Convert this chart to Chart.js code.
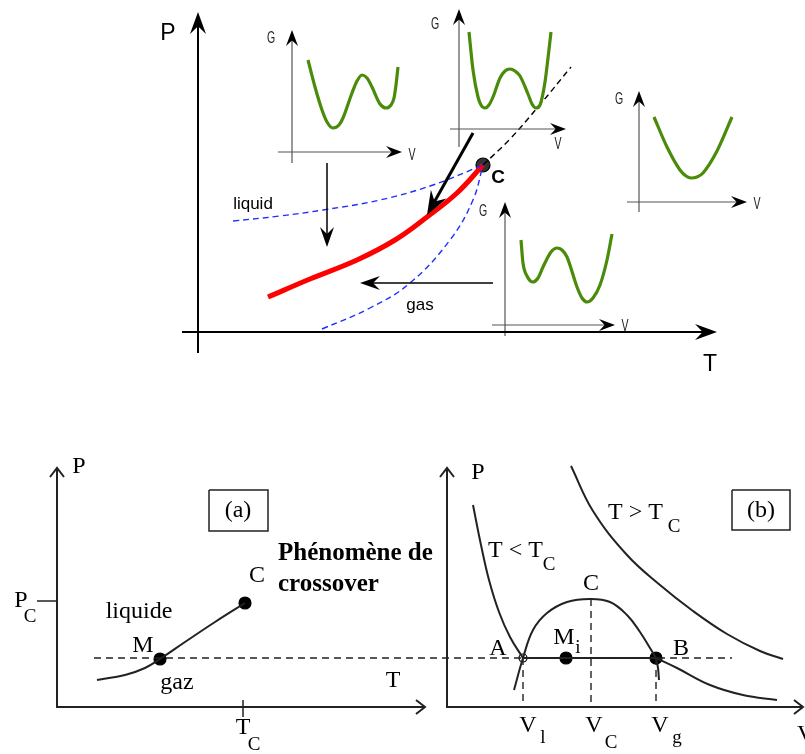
<!DOCTYPE html>
<html>
<head>
<meta charset="utf-8">
<script src="https://cdn.jsdelivr.net/npm/chart.js@4"></script>
<style>
  body { margin: 0; background: #fff; }
  #wrap { width: 805px; height: 754px; }
</style>
</head>
<body>
<div id="wrap"><canvas id="myChart" width="805" height="754"></canvas></div>
<script>
// Curve points (page coordinates, y going down)

// top diagram: coexistence line ending at the critical point
const redCurve = [[268, 297], [310, 279], [357, 260], [395, 240], [427, 217], [457, 193], [483, 165]];
const criticalExt = [[483, 165], [510, 139], [538, 107], [571, 67]];
const liquidSpinodal = [[233, 221], [280, 216], [323, 210], [380, 200], [433, 185], [483, 165]];
const gasSpinodal = [[322, 329], [370, 308], [410, 283], [450, 240], [473, 200], [483, 165]];
const criticalPoint = [[483, 165]];

// G(V) insets
const gCurve1 = [[308, 60], [315, 87], [322, 110], [327, 122], [333, 128], [339, 125], [343, 118], [352, 93], [357, 81], [362, 75], [367, 78], [372, 87], [380, 104], [386, 108], [391, 105], [394, 98], [396, 85], [398, 67]];
const gCurve2 = [[469, 32], [473, 70], [478, 97], [481, 105], [485, 108], [489, 105], [493, 97], [500, 78], [505, 71], [510, 69], [515, 71], [520, 76], [528, 94], [532, 104], [536, 108], [540, 105], [545, 82], [548, 58], [551, 32]];
const gCurve3 = [[654, 117], [667, 147], [680, 170], [686, 176], [691, 178], [697, 177], [703, 173], [717, 151], [732, 117]];
const gCurve4 = [[521, 240], [523, 263], [527, 276], [533, 282], [538, 278], [543, 267], [551, 252], [557, 248], [562, 250], [567, 257], [577, 287], [582, 298], [587, 302], [593, 298], [600, 285], [607, 260], [612, 234]];

// bottom left (a): P(T)
const coexCurveA = [[97, 680], [125, 675], [145, 668], [160, 659], [185, 642], [215, 622], [245, 603]];
const pointsA = [[160, 659], [245, 603]];

// bottom right (b): P(V)
const isoBelowLeft = [[473, 505], [481, 545], [489, 580], [499, 612], [510, 637], [523, 658]];
const isoBelowRight = [[656, 658], [677, 668], [710, 685], [743, 695], [777, 700]];
const isoAbove = [[571, 466], [593, 511], [627, 555], [660, 585], [693, 611], [727, 634], [760, 651], [783, 659]];
const domeLeft = [[514, 690], [523, 658], [533, 630], [547, 613], [567, 602], [590, 599], [610, 602], [627, 615], [640, 632], [650, 648], [656, 658]];
const domeRight = [[656, 658], [658, 668], [659, 680]];
const tieLine = [[523, 658], [656, 658]];
const levelLine = [[94, 658], [732, 658]];
const dropVl = [[523, 658], [523, 707]];
const dropVc = [[591, 599], [591, 707]];
const dropVg = [[656, 658], [656, 707]];
const filledPointsB = [[566, 658], [656, 658]];
const openPointB = [[523, 658]];

// arrows: from, to, head length, head half-width, line width, colour, head style
const arrows = [
  { from: [198, 353], to: [198, 12], len: 22, half: 8, w: 2, c: '#000', s: 'stealth' },
  { from: [182, 332], to: [717, 332], len: 22, half: 8, w: 2, c: '#000', s: 'stealth' },
  { from: [292, 163], to: [292, 30], len: 16, half: 6, w: 1.2, c: '#555', s: 'stealth' },
  { from: [278, 152], to: [402, 152], len: 16, half: 6, w: 1.2, c: '#555', s: 'stealth' },
  { from: [459, 147], to: [459, 9], len: 16, half: 6, w: 1.2, c: '#555', s: 'stealth' },
  { from: [450, 129], to: [566, 129], len: 16, half: 6, w: 1.2, c: '#555', s: 'stealth' },
  { from: [639, 212], to: [639, 91], len: 16, half: 6, w: 1.2, c: '#555', s: 'stealth' },
  { from: [627, 202], to: [747, 202], len: 16, half: 6, w: 1.2, c: '#555', s: 'stealth' },
  { from: [505, 336], to: [505, 202], len: 16, half: 6, w: 1.2, c: '#555', s: 'stealth' },
  { from: [492, 325], to: [615, 325], len: 16, half: 6, w: 1.2, c: '#555', s: 'stealth' },
  { from: [473, 133], to: [427, 215], len: 24, half: 9, w: 3, c: '#000', s: 'stealth' },
  { from: [327, 163], to: [327, 247], len: 20, half: 7, w: 1.5, c: '#000', s: 'stealth' },
  { from: [493, 283], to: [360, 283], len: 20, half: 7, w: 1.5, c: '#000', s: 'stealth' },
  { from: [57, 708], to: [57, 468], len: 9, half: 7, w: 2, c: '#222', s: 'open' },
  { from: [57, 707], to: [425, 707], len: 9, half: 7, w: 2, c: '#222', s: 'open' },
  { from: [447, 708], to: [447, 468], len: 9, half: 7, w: 2, c: '#222', s: 'open' },
  { from: [447, 707], to: [803, 707], len: 9, half: 7, w: 2, c: '#222', s: 'open' }
];

const ticks = [[[37, 601], [57, 601]], [[243, 700], [243, 717]]];
const boxA = [[209, 490], [268, 490], [268, 531], [209, 531], [209, 490]];
const boxB = [[732, 490], [790, 490], [790, 530], [732, 530], [732, 490]];

// text labels: text, x, y, font key, align
const sans = '"Liberation Sans", Arial, sans-serif';
const serif = '"Liberation Serif", "Times New Roman", serif';
const fonts = {
  big: '23px ' + sans,
  crit: 'bold 19px ' + sans,
  lab: '17px ' + sans,
  gv: '17px ' + sans,
  s: '24px ' + serif,
  sub: '19px ' + serif,
  bold: 'bold 25px ' + serif
};
const labels = [
  ['P', 168, 34, 'big', 'center'], ['T', 710, 365, 'big', 'center'],
  ['C', 498, 178, 'crit', 'center'],
  ['liquid', 253, 204, 'lab', 'center'], ['gas', 420, 305, 'lab', 'center'],
  ['G', 271, 38, 'gv', 'center'], ['G', 435, 24, 'gv', 'center'],
  ['G', 619, 99, 'gv', 'center'], ['G', 483, 211, 'gv', 'center'],
  ['V', 412, 155, 'gv', 'center'], ['V', 558, 144, 'gv', 'center'],
  ['V', 757, 204, 'gv', 'center'], ['V', 625, 326, 'gv', 'center'],
  ['P', 79, 467, 's', 'center'],
  ['P', 21, 601, 's', 'center'], ['C', 30, 617, 'sub', 'center'],
  ['T', 243, 728, 's', 'center'], ['C', 254, 745, 'sub', 'center'],
  ['(a)', 238, 511, 's', 'center'], ['(b)', 761, 511, 's', 'center'],
  ['C', 257, 576, 's', 'center'], ['M', 143, 646, 's', 'center'],
  ['liquide', 139, 612, 's', 'center'], ['gaz', 177, 683, 's', 'center'],
  ['T', 393, 681, 's', 'center'],
  ['Phénomène de', 278, 554, 'bold', 'left'], ['crossover', 278, 585, 'bold', 'left'],
  ['P', 478, 473, 's', 'center'],
  ['T < T', 488, 551, 's', 'left'], ['C', 549, 565, 'sub', 'center'],
  ['T > T', 608, 513, 's', 'left'], ['C', 674, 527, 'sub', 'center'],
  ['C', 591, 584, 's', 'center'],
  ['A', 498, 649, 's', 'center'], ['M', 564, 638, 's', 'center'], ['i', 578, 648, 'sub', 'center'],
  ['B', 681, 649, 's', 'center'],
  ['V', 528, 726, 's', 'center'], ['l', 543, 738, 'sub', 'center'],
  ['V', 594, 726, 's', 'center'], ['C', 611, 743, 'sub', 'center'],
  ['V', 660, 726, 's', 'center'], ['g', 677, 738, 'sub', 'center'],
  ['V', 797, 735, 's', 'left']
];

// build datasets from the arrays above
const pts = a => a.map(([x, y]) => ({ x, y }));
function line(a, color, width, opts) {
  return Object.assign({ data: pts(a), showLine: true, borderColor: color, borderWidth: width,
    pointRadius: 0, tension: 0, fill: false, clip: false }, opts || {});
}
const smooth = { cubicInterpolationMode: 'monotone' };
const soft = { tension: 0.4 };
function dots(a, r, fillColor) {
  return { data: pts(a), showLine: false, pointRadius: r, pointHoverRadius: r,
    backgroundColor: fillColor, borderColor: '#000', borderWidth: 1.2, clip: false };
}

const datasets = [];
// arrow shafts, stopped short of the tip so the head covers the end
arrows.forEach(a => {
  const dx = a.to[0] - a.from[0], dy = a.to[1] - a.from[1];
  const d = Math.hypot(dx, dy);
  const back = a.s === 'stealth' ? a.len * 0.55 : 0;
  const end = [a.to[0] - dx / d * back, a.to[1] - dy / d * back];
  datasets.push(line([a.from, end], a.c, a.w));
});
ticks.forEach(t => datasets.push(line(t, '#222', 1.5)));
datasets.push(line(boxA, '#222', 1.5));
datasets.push(line(boxB, '#222', 1.5));

const green = '#4b8b0a';
[gCurve1, gCurve2, gCurve3, gCurve4].forEach(g => datasets.push(line(g, green, 3.2, smooth)));

datasets.push(line(liquidSpinodal, '#1f2fff', 1.4, Object.assign({ borderDash: [6, 4] }, soft)));
datasets.push(line(gasSpinodal, '#1f2fff', 1.4, Object.assign({ borderDash: [6, 4] }, soft)));
datasets.push(line(criticalExt, '#000', 1.4, Object.assign({ borderDash: [6, 4] }, soft)));
datasets.push(line(redCurve, '#ff0000', 5, soft));
datasets.push(dots(criticalPoint, 7, '#333'));

datasets.push(line(levelLine, '#222', 1.4, { borderDash: [7, 5] }));
datasets.push(line(dropVl, '#222', 1.4, { borderDash: [7, 5] }));
datasets.push(line(dropVc, '#222', 1.4, { borderDash: [7, 5] }));
datasets.push(line(dropVg, '#222', 1.4, { borderDash: [7, 5] }));
datasets.push(line(coexCurveA, '#222', 2, soft));
datasets.push(line(isoBelowLeft, '#222', 2, soft));
datasets.push(line(isoBelowRight, '#222', 2, soft));
datasets.push(line(isoAbove, '#222', 2, soft));
datasets.push(line(domeLeft, '#222', 2, soft));
datasets.push(line(domeRight, '#222', 2, soft));
datasets.push(line(tieLine, '#222', 2));
datasets.push(dots(pointsA, 6, '#000'));
datasets.push(dots(filledPointsB, 6, '#000'));
datasets.push(dots(openPointB, 4, 'rgba(255,255,255,0)'));

// arrow heads and text drawn on top through the scales
const decorations = {
  id: 'decorations',
  afterDatasetsDraw(chart) {
    const ctx = chart.ctx, sx = chart.scales.x, sy = chart.scales.y;
    const X = v => sx.getPixelForValue(v), Y = v => sy.getPixelForValue(v);
    ctx.save();
    arrows.forEach(a => {
      const x1 = X(a.from[0]), y1 = Y(a.from[1]), x2 = X(a.to[0]), y2 = Y(a.to[1]);
      ctx.save();
      ctx.translate(x2, y2);
      ctx.rotate(Math.atan2(y2 - y1, x2 - x1));
      ctx.beginPath();
      if (a.s === 'stealth') {
        ctx.moveTo(0, 0);
        ctx.lineTo(-a.len, -a.half);
        ctx.lineTo(-a.len * 0.65, 0);
        ctx.lineTo(-a.len, a.half);
        ctx.closePath();
        ctx.fillStyle = '#000';
        ctx.fill();
      } else {
        ctx.moveTo(-a.len, -a.half);
        ctx.lineTo(0, 0);
        ctx.lineTo(-a.len, a.half);
        ctx.strokeStyle = a.c;
        ctx.lineWidth = a.w;
        ctx.stroke();
      }
      ctx.restore();
    });
    ctx.textBaseline = 'middle';
    labels.forEach(([t, x, y, f, al]) => {
      ctx.save();
      ctx.font = fonts[f];
      ctx.textAlign = al;
      ctx.fillStyle = f === 'gv' ? '#222' : '#000';
      ctx.translate(X(x), Y(y));
      if (f === 'gv') ctx.scale(0.62, 1);  // condensed look of the small G / V labels
      ctx.fillText(t, 0, 0);
      ctx.restore();
    });
    ctx.restore();
  }
};

const ctx = document.getElementById('myChart').getContext('2d');
new Chart(ctx, {
  type: 'scatter',
  data: { datasets },
  options: {
    responsive: false,
    animation: false,
    events: [],
    layout: { padding: 0, autoPadding: false },
    plugins: { legend: { display: false }, tooltip: { enabled: false } },
    scales: {
      x: { type: 'linear', min: 0, max: 805, display: false },
      y: { type: 'linear', min: 0, max: 754, reverse: true, display: false }
    }
  },
  plugins: [decorations]
});
</script>
</body>
</html>
